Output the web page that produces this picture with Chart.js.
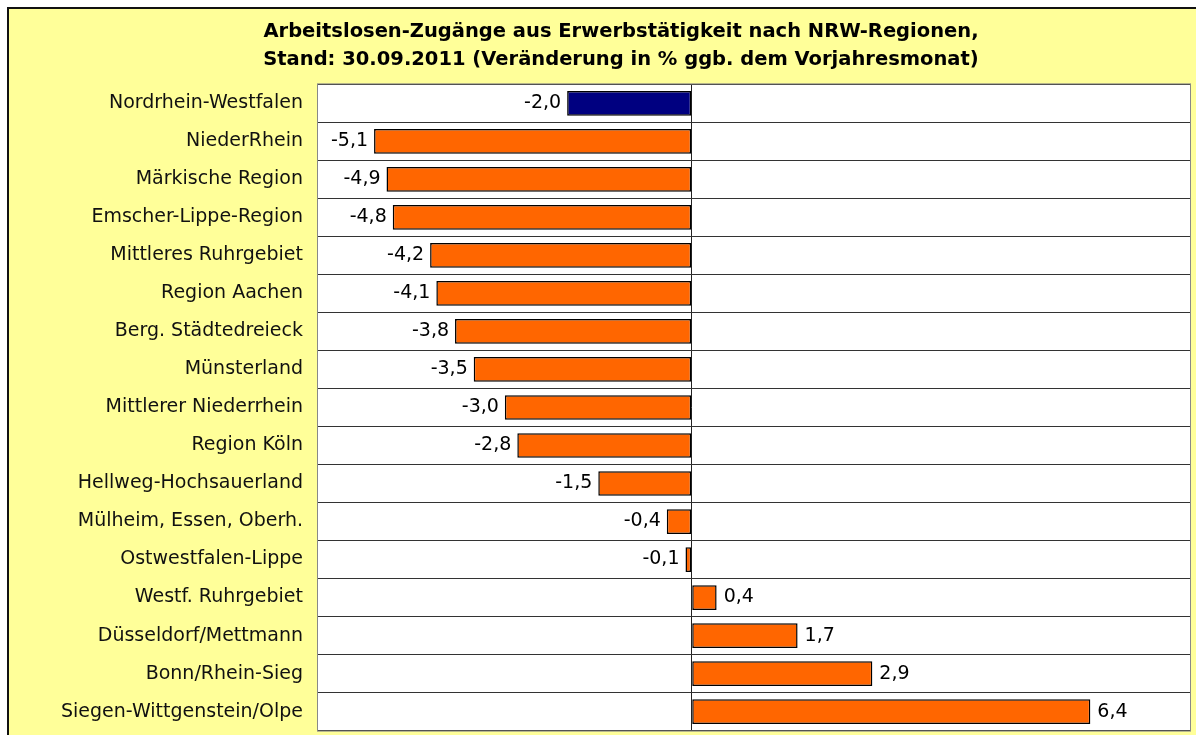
<!DOCTYPE html>
<html>
<head>
<meta charset="utf-8">
<script src="https://cdn.jsdelivr.net/npm/chart.js@4/dist/chart.umd.min.js"></script>
<style>
  html, body { margin: 0; padding: 0; background: #fff; }
  body { width: 1196px; height: 735px; overflow: hidden; position: relative; }
  #frame {
    position: absolute; left: 7px; top: 7px;
    width: 1189px; height: 728px; overflow: hidden;
    background: #ffff99;
    border-left: 2px solid #111; border-top: 2px solid #111;
  }
  #chart { position: absolute; left: 0; top: 0; }
</style>
</head>
<body>
<div id="frame"><canvas id="chart" width="1187" height="748"></canvas></div>
<script>
const regions = [
  'Nordrhein-Westfalen', 'NiederRhein', 'Märkische Region', 'Emscher-Lippe-Region',
  'Mittleres Ruhrgebiet', 'Region Aachen', 'Berg. Städtedreieck', 'Münsterland',
  'Mittlerer Niederrhein', 'Region Köln', 'Hellweg-Hochsauerland', 'Mülheim, Essen, Oberh.',
  'Ostwestfalen-Lippe', 'Westf. Ruhrgebiet', 'Düsseldorf/Mettmann', 'Bonn/Rhein-Sieg',
  'Siegen-Wittgenstein/Olpe'
];
const changes = [-2.0, -5.1, -4.9, -4.8, -4.2, -4.1, -3.8, -3.5, -3.0, -2.8, -1.5, -0.4, -0.1, 0.4, 1.7, 2.9, 6.4];
const titleLines = [
  'Arbeitslosen-Zugänge aus Erwerbstätigkeit nach NRW-Regionen,',
  'Stand: 30.09.2011 (Veränderung in % ggb. dem Vorjahresmonat)'
];

const FONT = '"DejaVu Sans", "Liberation Sans", sans-serif';
const fmt = v => v.toFixed(1).replace('.', ',');
const barColors = regions.map((r, i) => i === 0 ? '#000080' : '#ff6600');

// white plot area + grey frame round it
const plotBg = {
  id: 'plotBg',
  beforeDraw(chart) {
    const { ctx, chartArea: a } = chart;
    ctx.save();
    ctx.fillStyle = '#fff';
    ctx.fillRect(a.left, a.top, a.right - a.left, a.bottom - a.top);
    ctx.restore();
  },
  afterDraw(chart) {
    const { ctx, chartArea: a } = chart;
    ctx.save();
    ctx.strokeStyle = '#888';
    ctx.lineWidth = 1;
    ctx.strokeRect(a.left - 0.5, a.top - 0.5, a.right - a.left + 1, a.bottom - a.top + 1);
    ctx.restore();
  }
};

// value labels beside each bar
const valueLabels = {
  id: 'valueLabels',
  afterDatasetsDraw(chart) {
    const { ctx } = chart;
    const meta = chart.getDatasetMeta(0);
    ctx.save();
    ctx.font = '19px ' + FONT;
    ctx.fillStyle = '#000';
    ctx.textBaseline = 'middle';
    meta.data.forEach((bar, i) => {
      const v = changes[i];
      if (v < 0) {
        ctx.textAlign = 'right';
        ctx.fillText(fmt(v), bar.x - 6, bar.y);
      } else {
        ctx.textAlign = 'left';
        ctx.fillText(fmt(v), bar.x + 7, bar.y);
      }
    });
    ctx.restore();
  }
};

new Chart(document.getElementById('chart'), {
  type: 'bar',
  data: {
    labels: regions,
    datasets: [{
      data: changes,
      backgroundColor: barColors,
      borderColor: '#000',
      borderWidth: 1.5,
      borderSkipped: false,
      categoryPercentage: 1,
      barPercentage: 0.65
    }]
  },
  options: {
    indexAxis: 'y',
    responsive: false,
    animation: false,
    layout: { padding: { top: 9, left: 43, right: 6, bottom: 5 } },
    plugins: {
      legend: { display: false },
      tooltip: { enabled: false },
      title: {
        display: true,
        text: titleLines,
        color: '#000',
        font: { family: FONT, size: 19.5, weight: 'bold', lineHeight: 1.42 },
        padding: { top: 0, bottom: 11 }
      }
    },
    scales: {
      x: {
        min: -6, max: 8,
        ticks: { display: false, stepSize: 1 },
        border: { display: false },
        grid: {
          drawTicks: false,
          color: c => c.tick && c.tick.value === 0 ? '#222' : 'transparent',
          lineWidth: 1
        },
        afterFit: s => { s.height = 0; }
      },
      y: {
        ticks: { color: '#111', font: { family: FONT, size: 19 }, padding: 15 },
        border: { display: false },
        grid: { offset: true, drawTicks: false, color: '#333', lineWidth: 1 },
        afterFit: s => { s.width = 266; }
      }
    }
  },
  plugins: [plotBg, valueLabels]
});
</script>
</body>
</html>
